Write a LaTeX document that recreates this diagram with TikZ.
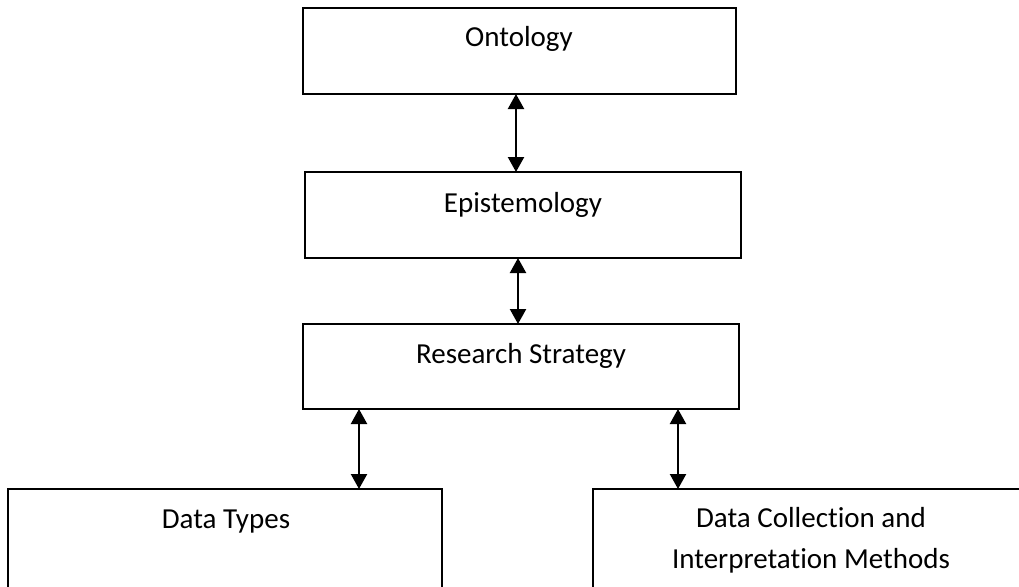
\documentclass[tikz,border=0pt]{standalone}
\usepackage{fontspec}
\setmainfont{Carlito}[Ligatures=NoCommon]
\usetikzlibrary{arrows.meta}
\begin{document}
\begin{tikzpicture}[x=1pt,y=-1pt,
  box/.style={draw=black,line width=2pt,rectangle,inner sep=0pt,outer sep=0pt},
  lbl/.style={anchor=base,inner sep=0pt,font=\fontsize{29}{41}\selectfont},
  link/.style={line width=2.2pt,{Triangle[width=16pt,length=15pt]}-{Triangle[width=16pt,length=15pt]}}]
  \useasboundingbox (0,0) rectangle (1019,586);
  \clip (0,0) rectangle (1019,586);
  % boxes, given by corners
  \node[box,minimum width=433pt,minimum height=86pt] (ont) at (519.5,51) {};
  \node[box,minimum width=436pt,minimum height=86pt] (epi) at (523,215) {};
  \node[box,minimum width=436pt,minimum height=85pt] (res) at (521,366.5) {};
  \node[box,minimum width=434pt,minimum height=160pt] (dt) at (225,569) {};
  \node[box,minimum width=436pt,minimum height=160pt] (dc) at (811,569) {};
  % labels
  \node[lbl] (ontT) at (519,47) {Ontology};
  \node[lbl] (epiT) at (523,212) {Epistemology};
  \node[lbl] (resT) at (521,363) {Research Strategy};
  \node[lbl] (dtT) at (226,528) {Data Types};
  \node[lbl] (dcT1) at (811,527) {Data Collection and};
  \node[lbl] (dcT2) at (811,568) {Interpretation Methods};
  % two-way connectors
  \draw[link] (ont.south -| 516,0) -- (epi.north -| 516,0);
  \draw[link] (epi.south -| 518,0) -- (res.north -| 518,0);
  \draw[link] (res.south -| 359,0) -- (dt.north -| 359,0);
  \draw[link] (res.south -| 678,0) -- (dc.north -| 678,0);
\end{tikzpicture}
\end{document}
